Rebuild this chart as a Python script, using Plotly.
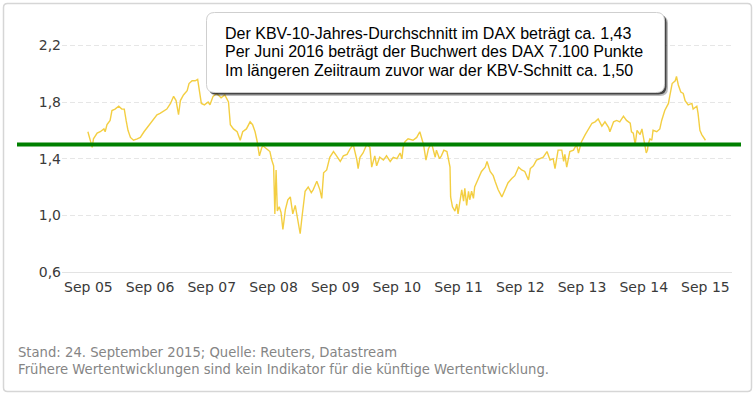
import pandas as pd
import plotly.graph_objects as go

# ---------------- data (time in decimal years, KBV value) ----------------
t_years = [
    2005.72, 2005.75, 2005.79, 2005.81, 2005.87, 2005.92, 2005.98, 2006.00, 2006.03, 2006.08,
    2006.11, 2006.16, 2006.22, 2006.27, 2006.31, 2006.34, 2006.37, 2006.41, 2006.46, 2006.52,
    2006.57, 2006.63, 2006.68, 2006.73, 2006.79, 2006.84, 2006.89, 2006.95, 2007.00, 2007.06,
    2007.11, 2007.15, 2007.19, 2007.22, 2007.27, 2007.33, 2007.36, 2007.41, 2007.46, 2007.50,
    2007.53, 2007.56, 2007.61, 2007.67, 2007.70, 2007.75, 2007.81, 2007.88, 2007.94, 2008.00,
    2008.03, 2008.08, 2008.14, 2008.19, 2008.23, 2008.29, 2008.35, 2008.39, 2008.43, 2008.46,
    2008.50, 2008.54, 2008.56, 2008.62, 2008.67, 2008.70, 2008.73, 2008.75, 2008.77, 2008.79,
    2008.82, 2008.85, 2008.88, 2008.92, 2008.96, 2009.00, 2009.04, 2009.08, 2009.11, 2009.16,
    2009.19, 2009.21, 2009.24, 2009.29, 2009.34, 2009.37, 2009.43, 2009.48, 2009.51, 2009.54,
    2009.59, 2009.64, 2009.70, 2009.75, 2009.81, 2009.86, 2009.92, 2009.97, 2010.02, 2010.08,
    2010.10, 2010.13, 2010.18, 2010.24, 2010.29, 2010.32, 2010.37, 2010.40, 2010.45, 2010.51,
    2010.56, 2010.62, 2010.67, 2010.73, 2010.78, 2010.81, 2010.83, 2010.86, 2010.91, 2010.99,
    2011.05, 2011.10, 2011.13, 2011.16, 2011.20, 2011.24, 2011.29, 2011.35, 2011.37, 2011.42,
    2011.45, 2011.49, 2011.54, 2011.59, 2011.60, 2011.63, 2011.67, 2011.70, 2011.72, 2011.75,
    2011.78, 2011.81, 2011.83, 2011.86, 2011.89, 2011.91, 2011.94, 2011.97, 2011.99, 2012.05,
    2012.10, 2012.16, 2012.19, 2012.24, 2012.29, 2012.32, 2012.37, 2012.43, 2012.48, 2012.53,
    2012.59, 2012.64, 2012.70, 2012.75, 2012.80, 2012.86, 2012.89, 2012.94, 2012.99, 2013.05,
    2013.10, 2013.16, 2013.21, 2013.26, 2013.29, 2013.34, 2013.40, 2013.43, 2013.45, 2013.48,
    2013.53, 2013.59, 2013.64, 2013.67, 2013.72, 2013.78, 2013.83, 2013.89, 2013.94, 2013.99,
    2014.05, 2014.10, 2014.16, 2014.18, 2014.24, 2014.29, 2014.34, 2014.40, 2014.45, 2014.51,
    2014.53, 2014.56, 2014.59, 2014.62, 2014.67, 2014.70, 2014.72, 2014.77, 2014.79, 2014.80,
    2014.83, 2014.86, 2014.88, 2014.94, 2014.99, 2015.02, 2015.07, 2015.13, 2015.15, 2015.19,
    2015.24, 2015.26, 2015.29, 2015.33, 2015.37, 2015.40, 2015.45, 2015.51, 2015.53, 2015.59,
    2015.61, 2015.64, 2015.67, 2015.73,
]

kbv = [
    1.59, 1.54, 1.48, 1.54, 1.58, 1.59, 1.61, 1.59, 1.64, 1.67,
    1.74, 1.75, 1.77, 1.75, 1.75, 1.67, 1.60, 1.55, 1.53, 1.54,
    1.55, 1.59, 1.62, 1.65, 1.68, 1.71, 1.72, 1.74, 1.75, 1.79,
    1.84, 1.81, 1.71, 1.81, 1.85, 1.88, 1.93, 1.95, 1.95, 1.96,
    1.87, 1.79, 1.78, 1.80, 1.78, 1.84, 1.86, 1.83, 1.85, 1.80,
    1.64, 1.61, 1.59, 1.53, 1.59, 1.61, 1.66, 1.64, 1.59, 1.53,
    1.42, 1.48, 1.49, 1.47, 1.45, 1.39, 1.35, 1.01, 1.32, 1.03,
    1.06, 1.02, 0.90, 1.04, 1.11, 1.13, 1.01, 1.07, 0.99, 0.87,
    0.99, 1.07, 1.17, 1.20, 1.16, 1.18, 1.24, 1.18, 1.12, 1.30,
    1.32, 1.41, 1.45, 1.42, 1.38, 1.42, 1.43, 1.47, 1.50, 1.39,
    1.33, 1.41, 1.44, 1.50, 1.48, 1.34, 1.42, 1.35, 1.41, 1.39,
    1.42, 1.38, 1.41, 1.40, 1.44, 1.40, 1.48, 1.52, 1.54, 1.53,
    1.55, 1.59, 1.55, 1.50, 1.39, 1.47, 1.51, 1.41, 1.46, 1.40,
    1.42, 1.46, 1.45, 1.34, 1.13, 1.06, 1.03, 1.08, 1.01, 1.11,
    1.18, 1.10, 1.19, 1.07, 1.17, 1.11, 1.17, 1.12, 1.20, 1.26,
    1.31, 1.34, 1.38, 1.31, 1.28, 1.24, 1.18, 1.13, 1.18, 1.23,
    1.26, 1.28, 1.34, 1.32, 1.31, 1.25, 1.33, 1.35, 1.39, 1.40,
    1.41, 1.45, 1.39, 1.40, 1.33, 1.46, 1.46, 1.38, 1.43, 1.34,
    1.45, 1.46, 1.50, 1.44, 1.52, 1.57, 1.61, 1.65, 1.66, 1.68,
    1.63, 1.66, 1.62, 1.59, 1.66, 1.67, 1.66, 1.70, 1.67, 1.65,
    1.59, 1.58, 1.50, 1.60, 1.57, 1.61, 1.56, 1.44, 1.46, 1.50,
    1.54, 1.53, 1.60, 1.59, 1.61, 1.67, 1.74, 1.79, 1.84, 1.93,
    1.95, 1.98, 1.92, 1.87, 1.86, 1.81, 1.78, 1.79, 1.75, 1.77,
    1.72, 1.60, 1.57, 1.53,
]

avg_level = 1.5                       # long-term KBV average (green line)
x_range_years = [2005.30, 2016.16]    # visible time window
y_range = [0.6, 2.4]
y_ticks = [0.6, 1.0, 1.4, 1.8, 2.2]
tick_years = [2005, 2006, 2007, 2008, 2009, 2010, 2011, 2012, 2013, 2014, 2015]
tick_labels = ["Sep 05", "Sep 06", "Sep 07", "Sep 08", "Sep 09", "Sep 10",
               "Sep 11", "Sep 12", "Sep 13", "Sep 14", "Sep 15"]

info_lines = [
    "Der KBV-10-Jahres-Durchschnitt im DAX beträgt ca. 1,43",
    "Per Juni 2016 beträgt der Buchwert des DAX 7.100 Punkte",
    "Im längeren Zeiitraum zuvor war der KBV-Schnitt ca. 1,50",
]
footer_lines = [
    "Stand: 24. September 2015; Quelle: Reuters, Datastream",
    "Frühere Wertentwicklungen sind kein Indikator für die künftige Wertentwicklung.",
]


def to_date(t):
    y = int(t)
    a = pd.Timestamp(y, 1, 1)
    b = pd.Timestamp(y + 1, 1, 1)
    return a + (b - a) * (t - y)


dates = [to_date(t) for t in t_years]
tick_dates = [pd.Timestamp(y, 9, 24) for y in tick_years]

# ---------------- layout geometry ----------------
W, H = 756, 396
ML, MR, MT, MB = 62, 24, 17, 124
PW, PH = W - ML - MR, H - MT - MB


def px(xp):
    return (xp - ML) / PW


def py(yp):
    return (H - MB - yp) / PH


def rrect(x0, y0, x1, y1, r):
    # rounded rectangle path in paper coordinates from pixel corners
    pts = [
        f"M {px(x0 + r)},{py(y0)}",
        f"L {px(x1 - r)},{py(y0)}",
        f"Q {px(x1)},{py(y0)} {px(x1)},{py(y0 + r)}",
        f"L {px(x1)},{py(y1 - r)}",
        f"Q {px(x1)},{py(y1)} {px(x1 - r)},{py(y1)}",
        f"L {px(x0 + r)},{py(y1)}",
        f"Q {px(x0)},{py(y1)} {px(x0)},{py(y1 - r)}",
        f"L {px(x0)},{py(y0 + r)}",
        f"Q {px(x0)},{py(y0)} {px(x0 + r)},{py(y0)}",
        "Z",
    ]
    return " ".join(pts)


fig = go.Figure()
fig.add_trace(go.Scatter(
    x=dates, y=kbv, mode="lines",
    line=dict(color="rgba(242,201,45,0.9)", width=1.4),
    hoverinfo="skip", showlegend=False,
))

shapes = [
    # outer rounded frame
    dict(type="path", xref="paper", yref="paper", path=rrect(3.5, 3.5, 751.5, 391.5, 4),
         line=dict(color="#d6d6d6", width=1.5), fillcolor="rgba(0,0,0,0)", layer="below"),
    # long-term average line
    dict(type="line", xref="paper", yref="y", x0=px(17), x1=px(741), y0=avg_level, y1=avg_level,
         line=dict(color="#008000", width=4), layer="above"),
    # box shadow
    dict(type="path", xref="paper", yref="paper", path=rrect(209.5, 15.5, 668, 96, 8),
         line=dict(width=0), fillcolor="rgba(60,60,60,0.35)", layer="above"),
    dict(type="path", xref="paper", yref="paper", path=rrect(208.5, 14.5, 666.5, 94.5, 8),
         line=dict(width=0), fillcolor="rgba(30,30,30,0.75)", layer="above"),
    # info box
    dict(type="path", xref="paper", yref="paper", path=rrect(206.5, 12.5, 664.5, 92.5, 8),
         line=dict(color="#cfcfcf", width=1), fillcolor="#ffffff", layer="above"),
]

annotations = []
for i, txt in enumerate(info_lines):
    annotations.append(dict(
        text=txt, xref="paper", yref="paper", x=px(223), y=py(33 + 18.5 * i),
        xanchor="left", yanchor="middle", showarrow=False,
        font=dict(family="Liberation Sans, Arial", size=16, color="#000000"),
    ))
for i, txt in enumerate(footer_lines):
    annotations.append(dict(
        text=txt, xref="paper", yref="paper", x=px(16), y=py(352 + 17.5 * i),
        xanchor="left", yanchor="middle", showarrow=False,
        font=dict(family="DejaVu Sans, Verdana", size=13.2, color="#858585"),
    ))

fig.update_layout(
    width=W, height=H,
    margin=dict(l=ML, r=MR, t=MT, b=MB, pad=0),
    paper_bgcolor="#ffffff", plot_bgcolor="#ffffff",
    separators=",.",
    showlegend=False,
    shapes=shapes,
    annotations=annotations,
    hovermode=False,
)
fig.update_xaxes(
    type="date",
    range=[to_date(x_range_years[0]), to_date(x_range_years[1])],
    tickvals=tick_dates, ticktext=tick_labels,
    showgrid=False, zeroline=False,
    showline=True, linecolor="#e3e3e3", linewidth=1,
    ticks="", ticklabelstandoff=2,
    tickfont=dict(family="DejaVu Sans, Verdana", size=14, color="#3a3a3a"),
)
fig.update_yaxes(
    range=y_range, tickvals=y_ticks, tickformat=".1f",
    showgrid=True, gridcolor="#e6e6e6", gridwidth=1, griddash="5px,3px",
    zeroline=False, showline=False, ticks="", ticklabelstandoff=0,
    tickfont=dict(family="DejaVu Sans, Verdana", size=14, color="#3a3a3a"),
)

fig.write_html(
    "out.html",
    config={"displayModeBar": False, "staticPlot": True},
    post_script="document.body.style.margin='0px';document.body.style.overflow='hidden';",
)
